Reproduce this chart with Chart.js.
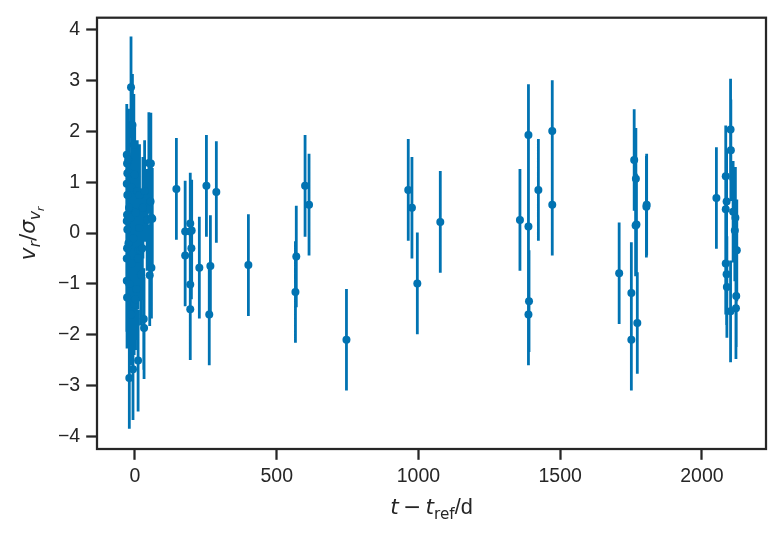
<!DOCTYPE html>
<html><head><meta charset="utf-8">
<script src="https://cdn.jsdelivr.net/npm/chart.js@4"></script>
<style>html,body{margin:0;padding:0;background:#fff;}#wrap{width:779px;height:537px;}</style>
</head><body><div id="wrap"><canvas id="c" width="779" height="537"></canvas></div>
<script>
// t - t_ref in days
const times = [
  -29,-28,-27,-29,-27,-28,-29,-27,-28,-29,-29,-28,
  -24,-23,-22,-21,-20,-20,-14,-16,-13,-12,-11,-9,-7,-6,-4,-3,-1,1,3,5,8,10,11,13,15,16,20,21,26,28,
  31,32,34,43,49,52,55,56,58,58,61,
  146,177,177,195,195,200,199,195,195,227,252,266,262,287,
  400,569,566,600,614,746,964,977,996,1077,
  1358,1388,1388,1390,1388,1423,1472,1472,
  1708,1751,1751,1761,1767,1769,1766,1772,1804,1805,
  2051,2101,2102,2084,2087,2084,2110,2118,2116,2123,2084,2087,2088,2121,2120,2101
];
// v_r / sigma_vr
const values = [
  1.54,1.37,1.18,0.97,0.75,0.36,0.24,0.07,-0.30,-0.50,-0.94,-1.27,
  1.45,-0.2,1.2,0.5,-1.0,-2.85,2.87,0.3,-1.6,0.9,-0.6,2.13,-2.68,-0.1,1.74,-1.4,1.15,-1.3,0.4,-1.1,0.83,-0.5,-2.51,-0.34,0.1,0.75,-0.34,-0.82,-0.3,0.5,
  -1.69,-1.87,0.83,0.26,1.38,-0.83,0.62,1.37,-0.68,0.30,0.28,
  0.87,0.03,-0.44,0.19,0.03,0.05,-0.30,-1.01,-1.50,-0.68,0.93,-0.65,-1.60,0.81,
  -0.63,-0.46,-1.16,0.93,0.56,-2.10,0.85,0.50,-0.99,0.22,
  0.26,1.93,0.13,-1.34,-1.60,0.85,2.01,0.56,
  -0.79,-1.18,-2.10,1.44,1.07,0.17,0.15,-1.77,0.52,0.56,
  0.69,2.04,1.63,1.12,0.62,0.47,0.42,0.30,0.05,-0.34,-0.60,-0.81,-1.06,-1.24,-1.48,-1.54
];
// every error bar is +/- 1 (values are normalised by their uncertainty)
const errorHalfWidth = 1;
const xTicks = [0, 500, 1000, 1500, 2000];
const yTicks = [-4, -3, -2, -1, 0, 1, 2, 3, 4];
const xLabelRuns = ['t', '\u2009\u2212\u2009', 't', 'ref', '/d'];
const yLabelRuns = ['v', 'r', '/', '\u03c3', 'v', 'r'];

const COLOR = '#0173B2';
const INK = '#262626';

const points = times.map((t, i) => ({x: t, y: values[i]}));

const errorBars = {
  id: 'errorBars',
  beforeDatasetsDraw(chart) {
    const {ctx, chartArea: a, scales: {x, y}} = chart;
    ctx.save();
    ctx.beginPath(); ctx.rect(a.left, a.top, a.width, a.height); ctx.clip();
    ctx.strokeStyle = COLOR; ctx.lineWidth = 2.8; ctx.lineCap = 'butt';
    ctx.beginPath();
    times.forEach((t, i) => {
      const px = x.getPixelForValue(t);
      ctx.moveTo(px, y.getPixelForValue(values[i] - errorHalfWidth));
      ctx.lineTo(px, y.getPixelForValue(values[i] + errorHalfWidth));
    });
    ctx.stroke();
    ctx.restore();
  }
};

function drawRuns(ctx, runs) {
  let w = 0;
  runs.forEach(r => { ctx.font = r.font; r.w = ctx.measureText(r.text).width; w += r.w; });
  let cx = -w / 2;
  runs.forEach(r => { ctx.font = r.font; ctx.fillText(r.text, cx, r.dy); cx += r.w; });
}

const frameAndLabels = {
  id: 'frameAndLabels',
  afterDraw(chart) {
    const {ctx, chartArea: a} = chart;
    ctx.save();
    ctx.strokeStyle = INK; ctx.lineWidth = 2.25;
    ctx.strokeRect(a.left, a.top, a.width, a.height);
    ctx.fillStyle = INK; ctx.textBaseline = 'alphabetic'; ctx.textAlign = 'left';
    const M = 21.7, S = 15.2, SS = 10.8;
    const it = s => `italic ${s}px "DejaVu Sans"`;
    const rm = s => `${s}px "DejaVu Sans"`;
    // x label
    ctx.save();
    ctx.translate((a.left + a.right) / 2, 514);
    drawRuns(ctx, [
      {text: xLabelRuns[0], font: it(M), dy: 0},
      {text: xLabelRuns[1], font: rm(M), dy: 0},
      {text: xLabelRuns[2], font: it(M), dy: 0},
      {text: xLabelRuns[3], font: rm(S), dy: 5},
      {text: xLabelRuns[4], font: `${M}px "Liberation Sans", Arial`, dy: 0}
    ]);
    ctx.restore();
    // y label
    ctx.save();
    ctx.translate(35, (a.top + a.bottom) / 2);
    ctx.rotate(-Math.PI / 2);
    drawRuns(ctx, [
      {text: yLabelRuns[0], font: it(M), dy: 0},
      {text: yLabelRuns[1], font: it(S), dy: 5},
      {text: yLabelRuns[2], font: rm(M), dy: 0},
      {text: yLabelRuns[3], font: it(M), dy: 0},
      {text: yLabelRuns[4], font: it(S), dy: 5},
      {text: yLabelRuns[5], font: it(SS), dy: 8.5}
    ]);
    ctx.restore();
    ctx.restore();
  }
};

const tickFont = {family: '"Liberation Sans", Arial, sans-serif', size: 19.5};

new Chart(document.getElementById('c'), {
  type: 'scatter',
  data: {datasets: [{
    data: points,
    backgroundColor: COLOR, borderColor: COLOR, borderWidth: 0,
    pointRadius: 4, pointHoverRadius: 4
  }]},
  options: {
    responsive: false, animation: false, devicePixelRatio: 1,
    layout: {padding: {left: 0, right: 13, top: 15, bottom: 0}},
    plugins: {legend: {display: false}, tooltip: {enabled: false}},
    scales: {
      x: {
        type: 'linear', min: -134, max: 2226,
        afterBuildTicks: s => { s.ticks = xTicks.map(v => ({value: v})); },
        afterFit: s => { s.height = 88; },
        grid: {display: true, drawOnChartArea: false, drawTicks: true, tickLength: 10.8, tickWidth: 2.25, tickColor: INK},
        border: {display: false},
        ticks: {color: INK, font: tickFont, padding: 5, maxRotation: 0,
          callback: v => String(v)}
      },
      y: {
        type: 'linear', min: -4.25, max: 4.24,
        afterBuildTicks: s => { s.ticks = yTicks.map(v => ({value: v})); },
        afterFit: s => { s.width = 97; },
        grid: {display: true, drawOnChartArea: false, drawTicks: true, tickLength: 10.8, tickWidth: 2.25, tickColor: INK},
        border: {display: false},
        ticks: {color: INK, font: tickFont, padding: 6,
          callback: v => (v < 0 ? '\u2212' + Math.abs(v) : String(v))}
      }
    }
  },
  plugins: [errorBars, frameAndLabels]
});
</script></body></html>
